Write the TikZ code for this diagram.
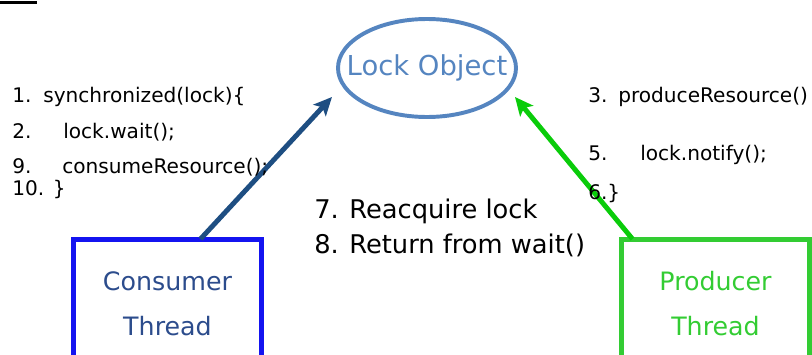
\documentclass[tikz,border=0pt]{standalone}
\usepackage{fontspec}
\setmainfont{DejaVu Sans}
\usetikzlibrary{arrows.meta,calc}
\definecolor{lockblue}{HTML}{5585C0}
\definecolor{consline}{HTML}{1E4E82}
\definecolor{consbox}{HTML}{1414F0}
\definecolor{constext}{HTML}{2C4C8C}
\definecolor{prodbox}{HTML}{33CC33}
\definecolor{prodline}{HTML}{0ACC0A}
\tikzset{
  codeline/.style={anchor=base west,inner sep=0pt,font=\fontsize{14.3}{16}\selectfont},
  noteline/.style={anchor=base west,inner sep=0pt,font=\fontsize{18.3}{20}\selectfont},
  threadbox/.style={draw,line width=3.5pt,anchor=north,minimum width=4.72cm,minimum height=3.2cm,
    align=center,font=\fontsize{18}{32}\selectfont},
  grab/.style={line width=3.5pt,-{Stealth[length=13pt,width=12pt,inset=3pt]}}
}
\begin{document}
\begin{tikzpicture}[x=0.025cm,y=-0.025cm]
\useasboundingbox (0,0) rectangle (812,355);
\clip (0,0) rectangle (812,355);
\draw[line width=2pt] (0,2.5)--(37,2.5);
% the monitor
\node[text=lockblue,font=\fontsize{19.5}{22}\selectfont] (lock) at (427,68) {Lock Object};
\draw[lockblue,line width=2.8pt] (lock.center) ellipse [x radius=89,y radius=49];
% the two threads
\node[threadbox,draw=consbox,text=constext] (consumer) at (167.5,237) {Consumer\\Thread};
\node[threadbox,draw=prodbox,text=prodbox] (producer) at (715.5,237) {Producer\\Thread};
\coordinate (ctip) at (332,97);
\coordinate (ptip) at (515,97);
\draw[grab,consline] ($(consumer.north)+(33,2)$) -- (ctip);
\draw[grab,prodline] ($(producer.north)+(-83,2)$) -- (ptip);
% consumer code
\node[codeline] (c1) at (12,102) {1.};
\node[codeline] (c1t) at (43,102) {synchronized(lock)\{};
\node[codeline] (c2) at (12,138) {2.};
\node[codeline] (c2t) at (63,138) {lock.wait();};
\node[codeline] (c9) at (12,173) {9.};
\node[codeline] (c9t) at (62,173) {consumeResource();};
\node[codeline] (c10) at (12,195) {10. \}};
% producer code
\node[codeline] (p3) at (588,102) {3.};
\node[codeline] (p3t) at (618,102) {produceResource()};
\node[codeline] (p5) at (588,160) {5.};
\node[codeline] (p5t) at (640,160) {lock.notify();};
\node[codeline] (p6) at (588,199) {6.\}};
% after notify
\node[noteline] (n7) at (314,218) {7.};
\node[noteline] (n7t) at (349,218) {Reacquire lock};
\node[noteline] (n8) at (314,253) {8.};
\node[noteline] (n8t) at (349,253) {Return from wait()};
\end{tikzpicture}
\end{document}
